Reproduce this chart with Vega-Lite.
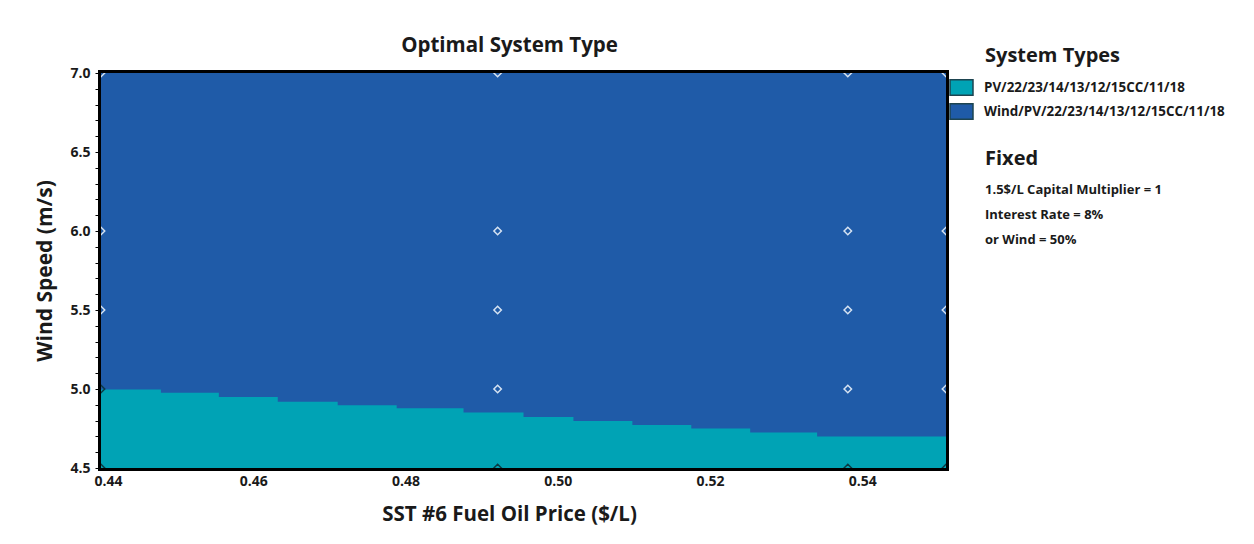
{
  "$schema": "https://vega.github.io/schema/vega-lite/v6.json",
  "width": 845,
  "height": 395,
  "autosize": {"type": "none"},
  "padding": {"left": 101, "top": 73, "right": 308, "bottom": 76},
  "background": "white",
  "title": {
    "text": "Optimal System Type",
    "frame": "group",
    "anchor": "middle",
    "dx": -14,
    "dy": 26,
    "offset": 16,
    "font": "Open Sans",
    "fontSize": 20.5,
    "fontWeight": "bold",
    "color": "#1a1a1a"
  },
  "datasets": {
    "region": [
      {"system": "Wind/PV/22/23/14/13/12/15CC/11/18", "price_lo": 0.44, "price_hi": 0.551, "wind_lo": 4.5, "wind_hi": 7.0}
    ],
    "boundary": [
      {"system": "PV/22/23/14/13/12/15CC/11/18", "price": 0.44, "wind": 4.9975},
      {"system": "PV/22/23/14/13/12/15CC/11/18", "price": 0.44787, "wind": 4.9767},
      {"system": "PV/22/23/14/13/12/15CC/11/18", "price": 0.45548, "wind": 4.949},
      {"system": "PV/22/23/14/13/12/15CC/11/18", "price": 0.46322, "wind": 4.92},
      {"system": "PV/22/23/14/13/12/15CC/11/18", "price": 0.47109, "wind": 4.8967},
      {"system": "PV/22/23/14/13/12/15CC/11/18", "price": 0.47884, "wind": 4.8778},
      {"system": "PV/22/23/14/13/12/15CC/11/18", "price": 0.48762, "wind": 4.8508},
      {"system": "PV/22/23/14/13/12/15CC/11/18", "price": 0.4955, "wind": 4.8231},
      {"system": "PV/22/23/14/13/12/15CC/11/18", "price": 0.50206, "wind": 4.7979},
      {"system": "PV/22/23/14/13/12/15CC/11/18", "price": 0.5098, "wind": 4.7727},
      {"system": "PV/22/23/14/13/12/15CC/11/18", "price": 0.51754, "wind": 4.75},
      {"system": "PV/22/23/14/13/12/15CC/11/18", "price": 0.52528, "wind": 4.7248},
      {"system": "PV/22/23/14/13/12/15CC/11/18", "price": 0.53407, "wind": 4.6997},
      {"system": "PV/22/23/14/13/12/15CC/11/18", "price": 0.551, "wind": 4.6997}
    ],
    "cases": [
      {"price": 0.44, "wind": 4.5, "optimal": "PV"},
      {"price": 0.44, "wind": 5.0, "optimal": "PV"},
      {"price": 0.44, "wind": 5.5, "optimal": "Wind/PV"},
      {"price": 0.44, "wind": 6.0, "optimal": "Wind/PV"},
      {"price": 0.44, "wind": 7.0, "optimal": "Wind/PV"},
      {"price": 0.4921, "wind": 4.5, "optimal": "PV"},
      {"price": 0.4921, "wind": 5.0, "optimal": "Wind/PV"},
      {"price": 0.4921, "wind": 5.5, "optimal": "Wind/PV"},
      {"price": 0.4921, "wind": 6.0, "optimal": "Wind/PV"},
      {"price": 0.4921, "wind": 7.0, "optimal": "Wind/PV"},
      {"price": 0.5381, "wind": 4.5, "optimal": "PV"},
      {"price": 0.5381, "wind": 5.0, "optimal": "Wind/PV"},
      {"price": 0.5381, "wind": 5.5, "optimal": "Wind/PV"},
      {"price": 0.5381, "wind": 6.0, "optimal": "Wind/PV"},
      {"price": 0.5381, "wind": 7.0, "optimal": "Wind/PV"},
      {"price": 0.551, "wind": 4.5, "optimal": "PV"},
      {"price": 0.551, "wind": 5.0, "optimal": "Wind/PV"},
      {"price": 0.551, "wind": 5.5, "optimal": "Wind/PV"},
      {"price": 0.551, "wind": 6.0, "optimal": "Wind/PV"},
      {"price": 0.551, "wind": 7.0, "optimal": "Wind/PV"}
    ],
    "fixed": [
      {"item": "1.5$/L Capital Multiplier = 1"},
      {"item": "Interest Rate = 8%"},
      {"item": "or Wind = 50%"}
    ]
  },
  "layer": [
    {
      "data": {"name": "region"},
      "mark": {"type": "rect"},
      "encoding": {
        "x": {
          "field": "price_lo",
          "type": "quantitative",
          "scale": {"domain": [0.44, 0.551], "nice": false, "zero": false},
          "axis": {
            "title": "SST #6 Fuel Oil Price ($/L)",
            "values": [0.44, 0.46, 0.48, 0.5, 0.52, 0.54],
            "format": ".2f",
            "ticks": false,
            "domain": false,
            "grid": false,
            "labelFlush": true,
            "labelFlushOffset": 7,
            "labelPadding": 6,
            "labelFont": "Open Sans",
            "labelFontSize": 14,
            "labelFontWeight": "bold",
            "labelColor": "#1a1a1a",
            "titleFont": "Open Sans",
            "titleFontSize": 20.5,
            "titleFontWeight": "bold",
            "titleColor": "#1a1a1a",
            "titlePadding": 16,
            "titleX": 408
          }
        },
        "x2": {"field": "price_hi"},
        "y": {
          "field": "wind_lo",
          "type": "quantitative",
          "scale": {"domain": [4.5, 7.0], "nice": false, "zero": false},
          "axis": {
            "title": "Wind Speed (m/s)",
            "values": [4.5, 4.6, 4.7, 4.8, 4.9, 5.0, 5.1, 5.2, 5.3, 5.4, 5.5, 5.6, 5.7, 5.8, 5.9, 6.0, 6.1, 6.2, 6.3, 6.4, 6.5, 6.6, 6.7, 6.8, 6.9, 7.0],
            "tickCount": 40,
            "labelExpr": "round(datum.value * 10) % 5 === 0 ? format(datum.value, '.1f') : ''",
            "labelOverlap": false,
            "labelFlush": false,
            "tickSize": 6,
            "tickColor": "#000000",
            "tickWidth": 1,
            "domain": false,
            "grid": false,
            "labelPadding": 5,
            "labelFont": "Open Sans",
            "labelFontSize": 14,
            "labelFontWeight": "bold",
            "labelColor": "#1a1a1a",
            "titleFont": "Open Sans",
            "titleFontSize": 21,
            "titleFontWeight": "bold",
            "titleColor": "#1a1a1a",
            "titlePadding": 14
          }
        },
        "y2": {"field": "wind_hi"},
        "fill": {
          "field": "system",
          "type": "nominal",
          "scale": {
            "domain": ["PV/22/23/14/13/12/15CC/11/18", "Wind/PV/22/23/14/13/12/15CC/11/18"],
            "range": ["#00a3b5", "#1f5ba8"]
          },
          "legend": {
            "title": "System Types",
            "orient": "none",
            "direction": "vertical",
            "legendX": 884,
            "legendY": -27,
            "titleFont": "Open Sans",
            "titleFontSize": 20,
            "titleFontWeight": "bold",
            "titleColor": "#1a1a1a",
            "titlePadding": 9,
            "labelFont": "Open Sans",
            "labelFontSize": 13.4,
            "labelFontWeight": "bold",
            "labelColor": "#1a1a1a",
            "labelLimit": 400,
            "symbolType": "M-1,-0.68H1V0.68H-1Z",
            "symbolSize": 529,
            "symbolStrokeColor": "#1d4450",
            "symbolStrokeWidth": 1.5,
            "symbolOffset": -36,
            "labelOffset": 10,
            "rowPadding": -1
          }
        }
      }
    },
    {
      "data": {"name": "boundary"},
      "mark": {"type": "area", "interpolate": "step-after"},
      "encoding": {
        "x": {"field": "price", "type": "quantitative"},
        "y": {"field": "wind", "type": "quantitative", "stack": null},
        "y2": {"datum": 4.5},
        "fill": {"field": "system", "type": "nominal"}
      }
    },
    {
      "data": {"name": "cases"},
      "mark": {"type": "point", "shape": "diamond", "filled": false, "size": 56, "strokeWidth": 1.5, "opacity": 1, "clip": true},
      "encoding": {
        "x": {"field": "price", "type": "quantitative"},
        "y": {"field": "wind", "type": "quantitative"},
        "stroke": {
          "field": "optimal",
          "type": "nominal",
          "scale": {"domain": ["PV", "Wind/PV"], "range": ["#0b3a44", "#d6e3f2"]},
          "legend": null
        }
      }
    },
    {
      "data": {"name": "fixed"},
      "mark": {"type": "point", "opacity": 0},
      "encoding": {
        "shape": {
          "field": "item",
          "type": "nominal",
          "scale": {"domain": ["1.5$/L Capital Multiplier = 1", "Interest Rate = 8%", "or Wind = 50%"]},
          "legend": {
            "title": "Fixed",
            "orient": "none",
            "direction": "vertical",
            "legendX": 884,
            "legendY": 76,
            "titleFont": "Open Sans",
            "titleFontSize": 20,
            "titleFontWeight": "bold",
            "titleColor": "#1a1a1a",
            "titlePadding": 14,
            "labelFont": "Open Sans",
            "labelFontSize": 13,
            "labelFontWeight": "bold",
            "labelColor": "#1a1a1a",
            "labelLimit": 400,
            "symbolSize": 0,
            "symbolOpacity": 0,
            "symbolStrokeWidth": 0,
            "labelOffset": -13,
            "rowPadding": 11
          }
        }
      }
    }
  ],
  "config": {
    "view": {"stroke": "#000000", "strokeWidth": 6}
  }
}
